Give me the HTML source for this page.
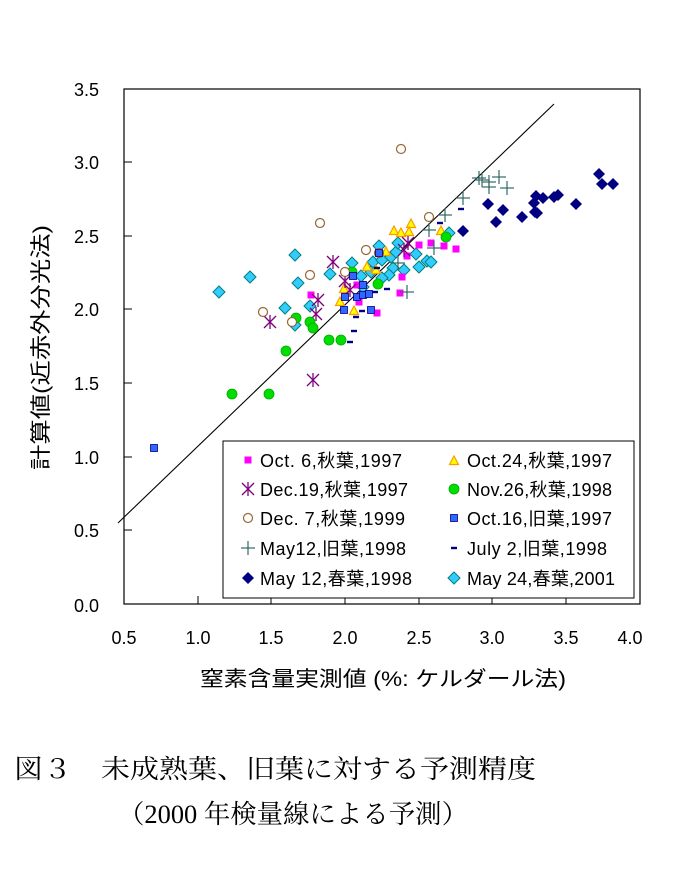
<!DOCTYPE html>
<html><head><meta charset="utf-8"><style>
body{margin:0;background:#fff;}
svg text{font-family:"Liberation Sans","Noto Sans CJK JP",sans-serif;}
.cap{font-family:"Liberation Serif","Noto Serif CJK SC",serif;}
</style></head><body>
<svg width="687" height="864" xmlns="http://www.w3.org/2000/svg">
<defs>
<rect id="sq" x="-3.5" y="-3.5" width="7" height="7" fill="#ff00ff"/>
<rect id="bsq" x="-3.5" y="-3.5" width="7" height="7" fill="#3366ff" stroke="#000080" stroke-width="0.8"/>
<polygon id="tri" points="0,-5 4.5,3.5 -4.5,3.5" fill="#ffff00" stroke="#ff9900" stroke-width="1.2"/>
<g id="x" stroke="#800080" stroke-width="1.3"><line x1="-6" y1="-6" x2="6" y2="6"/><line x1="-6" y1="6" x2="6" y2="-6"/><line x1="0" y1="-7" x2="0" y2="7"/></g>
<circle id="gc" r="5" fill="#00dd00" stroke="#00aa00" stroke-width="0.8"/>
<circle id="bc" r="4.5" fill="#fff" stroke="#996633" stroke-width="1.2"/>
<g id="pl" stroke="#336666" stroke-width="1.2"><line x1="-7" y1="0" x2="7" y2="0"/><line x1="0" y1="-7" x2="0" y2="7"/></g>
<rect id="ds" x="-3" y="-1.2" width="6" height="2.4" fill="#000080"/>
<polygon id="nd" points="0,-6 6,0 0,6 -6,0" fill="#000080"/>
<polygon id="cd" points="0,-6 6,0 0,6 -6,0" fill="#33ccff" stroke="#008080" stroke-width="1"/>
</defs>
<rect x="124" y="89" width="516" height="515" fill="none" stroke="#000" stroke-width="1.2"/>
<g stroke="#000" stroke-width="1">
<line x1="124" y1="162" x2="132" y2="162"/><line x1="124" y1="236" x2="132" y2="236"/><line x1="124" y1="309" x2="132" y2="309"/><line x1="124" y1="383" x2="132" y2="383"/><line x1="124" y1="457" x2="132" y2="457"/><line x1="124" y1="530" x2="132" y2="530"/>
<line x1="198" y1="604" x2="198" y2="596"/><line x1="271" y1="604" x2="271" y2="596"/><line x1="345" y1="604" x2="345" y2="596"/><line x1="419" y1="604" x2="419" y2="596"/><line x1="492" y1="604" x2="492" y2="596"/><line x1="566" y1="604" x2="566" y2="596"/>
</g>
<g font-size="18" text-anchor="end" fill="#000">
<text x="99" y="96">3.5</text><text x="99" y="169">3.0</text><text x="99" y="243">2.5</text><text x="99" y="316">2.0</text><text x="99" y="390">1.5</text><text x="99" y="464">1.0</text><text x="99" y="537">0.5</text><text x="99" y="612">0.0</text>
</g>
<g font-size="18" text-anchor="middle" fill="#000">
<text x="124" y="644">0.5</text><text x="198" y="644">1.0</text><text x="271" y="644">1.5</text><text x="345" y="644">2.0</text><text x="419" y="644">2.5</text><text x="492" y="644">3.0</text><text x="566" y="644">3.5</text><text x="630" y="644">4.0</text>
</g>
<text x="200" y="686" font-size="21" textLength="366" lengthAdjust="spacingAndGlyphs">窒素含量実測値 (%: ケルダール法)</text>
<text transform="translate(48,470) rotate(-90)" font-size="21" textLength="245" lengthAdjust="spacingAndGlyphs">計算値(近赤外分光法)</text>
<line x1="118" y1="523" x2="554" y2="104" stroke="#000" stroke-width="1.1"/>
<g>
<use href="#cd" x="219" y="292"/><use href="#cd" x="250" y="277"/><use href="#cd" x="295" y="255"/><use href="#cd" x="298" y="283"/><use href="#cd" x="285" y="308"/><use href="#cd" x="295" y="325"/><use href="#cd" x="310" y="306"/><use href="#cd" x="330" y="274"/><use href="#cd" x="352" y="263"/><use href="#cd" x="361" y="276"/><use href="#cd" x="379" y="246"/><use href="#cd" x="373" y="262"/><use href="#cd" x="382" y="260"/><use href="#cd" x="391" y="257"/><use href="#cd" x="396" y="252"/><use href="#cd" x="398" y="243"/><use href="#cd" x="393" y="268"/><use href="#cd" x="389" y="275"/><use href="#cd" x="382" y="278"/><use href="#cd" x="404" y="270"/><use href="#cd" x="416" y="254"/><use href="#cd" x="419" y="267"/><use href="#cd" x="427" y="261"/><use href="#cd" x="431" y="262"/><use href="#cd" x="449" y="233"/><use href="#cd" x="363" y="287"/><use href="#cd" x="371" y="272"/>
<use href="#sq" x="311" y="295"/><use href="#sq" x="359" y="302"/><use href="#sq" x="377" y="313"/><use href="#sq" x="400" y="293"/><use href="#sq" x="407" y="256"/><use href="#sq" x="419" y="245"/><use href="#sq" x="431" y="243"/><use href="#sq" x="444" y="246"/><use href="#sq" x="456" y="249"/><use href="#sq" x="402" y="277"/><use href="#sq" x="357" y="285"/>
<use href="#tri" x="394" y="231"/><use href="#tri" x="401" y="233"/><use href="#tri" x="411" y="224"/><use href="#tri" x="409" y="232"/><use href="#tri" x="386" y="252"/><use href="#tri" x="367" y="267"/><use href="#tri" x="376" y="270"/><use href="#tri" x="344" y="289"/><use href="#tri" x="340" y="302"/><use href="#tri" x="354" y="311"/><use href="#tri" x="441" y="231"/>
<use href="#x" x="333" y="262"/><use href="#x" x="318" y="300"/><use href="#x" x="316" y="314"/><use href="#x" x="270" y="322"/><use href="#x" x="313" y="380"/><use href="#x" x="345" y="281"/><use href="#x" x="350" y="290"/><use href="#x" x="408" y="243"/><use href="#x" x="404" y="250"/>
<use href="#gc" x="296" y="318"/><use href="#gc" x="310" y="322"/><use href="#gc" x="313" y="328"/><use href="#gc" x="329" y="340"/><use href="#gc" x="341" y="340"/><use href="#gc" x="286" y="351"/><use href="#gc" x="378" y="284"/><use href="#gc" x="446" y="237"/><use href="#gc" x="352" y="272"/><use href="#gc" x="232" y="394"/><use href="#gc" x="269" y="394"/>
<use href="#bc" x="401" y="149"/><use href="#bc" x="320" y="223"/><use href="#bc" x="310" y="275"/><use href="#bc" x="263" y="312"/><use href="#bc" x="292" y="322"/><use href="#bc" x="345" y="272"/><use href="#bc" x="366" y="250"/><use href="#bc" x="429" y="217"/><use href="#bc" x="379" y="253"/>
<use href="#bsq" x="344" y="310"/><use href="#bsq" x="345" y="297"/><use href="#bsq" x="353" y="276"/><use href="#bsq" x="357" y="297"/><use href="#bsq" x="363" y="295"/><use href="#bsq" x="369" y="294"/><use href="#bsq" x="371" y="310"/><use href="#bsq" x="363" y="285"/><use href="#bsq" x="379" y="253"/><use href="#bsq" x="154" y="448"/>
<use href="#pl" x="479" y="178"/><use href="#pl" x="482" y="180"/><use href="#pl" x="489" y="187"/><use href="#pl" x="499" y="177"/><use href="#pl" x="507" y="188"/><use href="#pl" x="489" y="182"/><use href="#pl" x="463" y="198"/><use href="#pl" x="445" y="215"/><use href="#pl" x="429" y="230"/><use href="#pl" x="434" y="248"/><use href="#pl" x="407" y="292"/><use href="#pl" x="398" y="263"/>
<use href="#ds" x="461" y="209"/><use href="#ds" x="440" y="223"/><use href="#ds" x="387" y="289"/><use href="#ds" x="375" y="292"/><use href="#ds" x="362" y="311"/><use href="#ds" x="356" y="317"/><use href="#ds" x="354" y="331"/><use href="#ds" x="350" y="342"/><use href="#ds" x="377" y="268"/>
<use href="#nd" x="463" y="231"/><use href="#nd" x="488" y="204"/><use href="#nd" x="503" y="210"/><use href="#nd" x="496" y="222"/><use href="#nd" x="522" y="217"/><use href="#nd" x="535" y="212"/><use href="#nd" x="536" y="196"/><use href="#nd" x="543" y="198"/><use href="#nd" x="534" y="203"/><use href="#nd" x="554" y="197"/><use href="#nd" x="558" y="195"/><use href="#nd" x="576" y="204"/><use href="#nd" x="599" y="174"/><use href="#nd" x="602" y="184"/><use href="#nd" x="613" y="184"/><use href="#nd" x="537" y="213"/>
</g>
<rect x="223" y="441" width="411" height="157" fill="#fff" stroke="#000" stroke-width="1"/>
<g>
<use href="#sq" x="248" y="460"/>
<use href="#x" x="248" y="489"/>
<use href="#bc" x="248" y="518"/>
<use href="#pl" x="248" y="548"/>
<use href="#nd" x="248" y="578"/>
<use href="#tri" x="454" y="461"/>
<use href="#gc" x="454" y="489"/>
<use href="#bsq" x="454" y="518"/>
<use href="#ds" x="454" y="548"/>
<use href="#cd" x="454" y="578"/>
</g>
<g font-size="18" fill="#000" lengthAdjust="spacingAndGlyphs">
<text x="260" y="467" textLength="142">Oct. 6,秋葉,1997</text>
<text x="260" y="496" textLength="148">Dec.19,秋葉,1997</text>
<text x="260" y="525" textLength="145">Dec. 7,秋葉,1999</text>
<text x="260" y="555" textLength="146">May12,旧葉,1998</text>
<text x="260" y="585" textLength="152">May 12,春葉,1998</text>
<text x="467" y="467" textLength="145">Oct.24,秋葉,1997</text>
<text x="467" y="496" textLength="145">Nov.26,秋葉,1998</text>
<text x="467" y="525" textLength="145">Oct.16,旧葉,1997</text>
<text x="467" y="555" textLength="140">July 2,旧葉,1998</text>
<text x="467" y="585" textLength="148">May 24,春葉,2001</text>
</g>
<text class="cap" x="14" y="778" font-size="26" textLength="522" lengthAdjust="spacingAndGlyphs">図３　未成熟葉、旧葉に対する予測精度</text>
<text class="cap" x="118" y="823" font-size="26" textLength="350" lengthAdjust="spacingAndGlyphs">（2000 年検量線による予測）</text>
</svg>
</body></html>
